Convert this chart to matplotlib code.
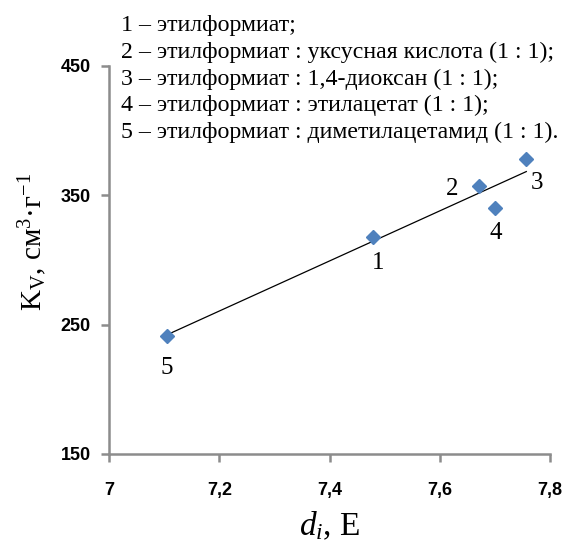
import numpy as np
import matplotlib
matplotlib.use("Agg")
import matplotlib.pyplot as plt

plt.rcParams["mathtext.fontset"] = "custom"
plt.rcParams["mathtext.rm"] = "Liberation Serif"
plt.rcParams["mathtext.it"] = "Liberation Serif:italic"
plt.rcParams["mathtext.bf"] = "Liberation Serif:bold"

# Data
labels = ["1", "2", "3", "4", "5"]
di = [7.479, 7.672, 7.757, 7.701, 7.105]
kv = [318, 357, 378, 340, 241.5]
label_offsets = [(4, -19), (-20, -2), (8, -17), (0, -18), (0, -23)]  # points
legend_lines = [
    "1 – этилформиат;",
    "2 – этилформиат : уксусная кислота (1 : 1);",
    "3 – этилформиат : 1,4-диоксан (1 : 1);",
    "4 – этилформиат : этилацетат (1 : 1);",
    "5 – этилформиат : диметилацетамид (1 : 1).",
]
xticks = [7.0, 7.2, 7.4, 7.6, 7.8]
xticklabels = ["7", "7,2", "7,4", "7,6", "7,8"]
yticks = [150, 250, 350, 450]

serif = "Liberation Serif"
fig = plt.figure(figsize=(5.64, 5.42), dpi=100)
ax = fig.add_axes([109/564, 1-454/542, (550-109)/564, (454-66)/542])

# trend line (linear fit)
p = np.polyfit(di, kv, 1)
xs = np.array([min(di), max(di)])
ax.plot(xs, np.polyval(p, xs), color="black", lw=0.9, zorder=2)
ax.plot(di, kv, linestyle="none", marker="D", ms=7.5, color="#4F81BD",
        markeredgecolor="#4F81BD", zorder=3)

for lab, x, y, off in zip(labels, di, kv, label_offsets):
    ax.annotate(lab, (x, y), xytext=off, textcoords="offset points",
                ha="center", va="center", fontsize=18, family=serif)

ax.set_xlim(7.0, 7.8)
ax.set_ylim(150, 450)
ax.set_xticks(xticks)
ax.set_xticklabels(xticklabels)
ax.set_yticks(yticks)
for s in ["top", "right"]:
    ax.spines[s].set_visible(False)
for s in ["left", "bottom"]:
    ax.spines[s].set_color("#8c8c8c")
    ax.spines[s].set_linewidth(1.8)
ax.tick_params(axis="both", direction="out", length=6, width=1.8, color="#8c8c8c",
               labelsize=13)
ax.tick_params(axis="x", pad=14)
ax.tick_params(axis="y", pad=7)
for t in ax.get_xticklabels() + ax.get_yticklabels():
    t.set_fontweight("bold")
    t.set_family("Liberation Sans")

ax.set_xlabel(r"$d_i$, Е", fontsize=24, family=serif, labelpad=8)
ax.set_ylabel(r"K$_\mathregular{V}$, см$^\mathregular{3}$·г$^\mathregular{-1}$",
              fontsize=21, family=serif, labelpad=8)
ax.yaxis.set_label_coords(-0.135, (454-242)/(454-66))

for i, line in enumerate(legend_lines):
    fig.text(121/564, 1-(26+26.5*i)/542, line, fontsize=17.2, family=serif,
             ha="left", va="center")

fig.savefig("out.png", dpi=100)
